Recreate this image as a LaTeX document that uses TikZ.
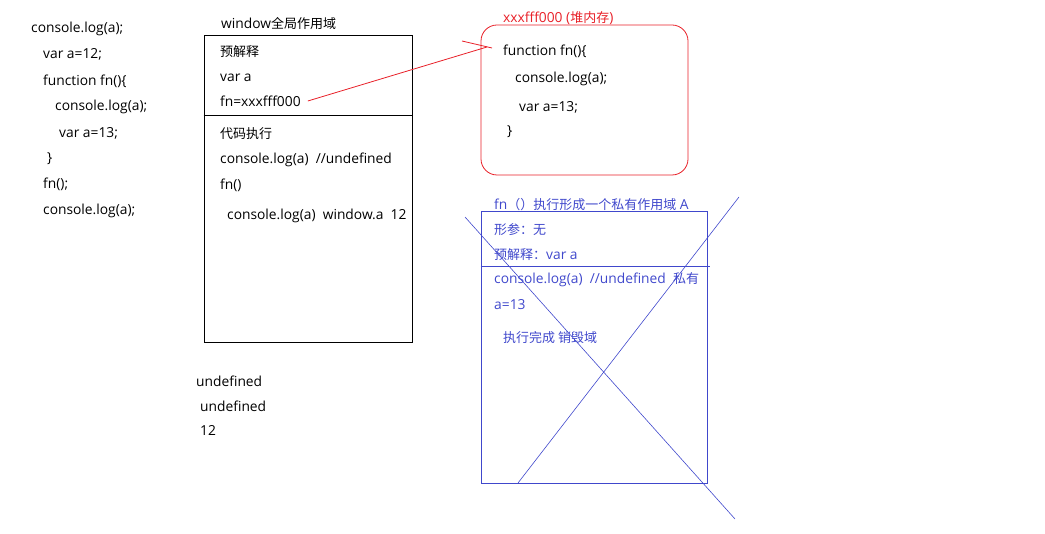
\documentclass[tikz,border=0pt]{standalone}
\usepackage{fontspec}
\setmainfont{Open Sans}
\newfontfamily\zhfont{Noto Sans CJK SC}
\newcommand\zh{\zhfont\fontsize{13}{15}\selectfont}
\usetikzlibrary{positioning}
\definecolor{heapred}{RGB}{232,32,40}
\definecolor{scopeblue}{RGB}{64,72,204}
\tikzset{
  code/.style={anchor=west,inner sep=0pt,font=\fontsize{13.8}{16}\selectfont},
  scopebox/.style={draw,line width=.8pt,inner sep=0pt}
}
\begin{document}
\begin{tikzpicture}[x=1pt,y=-1pt]
          \useasboundingbox (0,0) rectangle (1045,534);
          % source code
          \node[code] (l1) at (31,29)  {console.log(a);};
          \node[code] (l2) at (43,54)  {var a=12;};
          \node[code] (l3) at (43,81)  {function fn()\{};
          \node[code] (l4) at (55,107) {console.log(a);};
          \node[code] (l5) at (59,133) {var a=13;};
          \node[code] (l6) at (47,159) {\}};
          \node[code] (l7) at (43,184) {fn();};
          \node[code] (l8) at (43,211) {console.log(a);};
          % window global scope
          \node[code] (wtitle) at (221,24) {window{\zh 全局作用域}};
          \node[scopebox,minimum width=208pt,minimum height=307pt] (win) at (308,188.5) {};
          \draw[line width=.8pt] (win.west |- 0,115) -- (413,115);
          \node[code] (wpre)  at (220,52)  {\zh 预解释};
          \node[code] (wvar)  at (220,78)  {var a};
          \node[code] (waddr) at (220,101) {fn=xxxfff000};
          \node[code] (wrun)  at (220,134) {\zh 代码执行};
          \node[code] (wlog1) at (220,160) {console.log(a)\ \ //undefined};
          \node[code] (wcall) at (220,185) {fn()};
          \node[code] (wlog2) at (227,216) {console.log(a)\ \ window.a\ \ 12};
          % output
          \node[code] (o1) at (196,381) {undefined};
          \node[code] (o2) at (200,406) {undefined};
          \node[code] (o3) at (200,431) {12};
          % heap memory
          \node[code,text=heapred] (htitle) at (503,18) {xxxfff000 ({\zh 堆内存})};
          \node[scopebox,draw=heapred,rounded corners=16pt,minimum width=207pt,minimum height=150pt] (heap) at (584.5,100) {};
          \node[code] (h1) at (503,51)  {function fn()\{};
          \node[code] (h2) at (515,79)  {console.log(a);};
          \node[code] (h3) at (519,107) {var a=13;};
          \node[code] (h4) at (507,132) {\}};
          \coordinate (tip) at (487,47);
          \draw[heapred,line width=.8pt] ([xshift=7pt]waddr.east) -- (tip);
          \draw[heapred,line width=.8pt] (462,41) -- (492,48);
          % private scope A
          \node[code,text=scopeblue] (atitle) at (494,205) {fn{\zh（）执行形成一个私有作用域} A};
          \node[scopebox,draw=scopeblue,minimum width=226pt,minimum height=272pt] (priv) at (594,347) {};
          \draw[scopeblue,line width=.8pt] (priv.west |- 0,266) -- (710,266);
          \node[code,text=scopeblue] (aarg)  at (494,230) {\zh 形参：无};
          \node[code,text=scopeblue] (apre)  at (494,255) {{\zh 预解释：}var a};
          \node[code,text=scopeblue] (alog)  at (494,280) {console.log(a)\ \ //undefined\ \ {\zh 私有}};
          \node[code,text=scopeblue] (aval)  at (494,305) {a=13};
          \node[code,text=scopeblue] (aend)  at (503,338) {\zh 执行完成 销毁域};
          \draw[scopeblue,line width=.6pt] (465,217) -- (735,519);
          \draw[scopeblue,line width=.6pt] (739,197) -- (518,483);
\end{tikzpicture}
\end{document}
